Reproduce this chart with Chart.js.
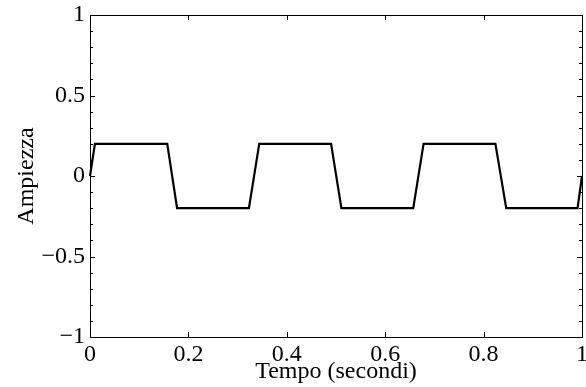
<!DOCTYPE html>
<html>
<head>
<meta charset="utf-8">
<script src="https://cdn.jsdelivr.net/npm/chart.js@4/dist/chart.umd.min.js"></script>
<style>
html,body{margin:0;padding:0;background:#fff;}
#wrap{width:586px;height:387px;position:relative;}
</style>
</head>
<body>
<div id="wrap"><canvas id="c" width="586" height="387"></canvas></div>
<script>
const timeValues = [0, 0.01, 0.157, 0.177, 0.323, 0.344, 0.49, 0.511, 0.657, 0.678, 0.824, 0.846, 0.991, 1.0];
const amplitudeValues = [0, 0.2, 0.2, -0.2, -0.2, 0.2, 0.2, -0.2, -0.2, 0.2, 0.2, -0.2, -0.2, 0];
const xTicks = [0, 0.2, 0.4, 0.6, 0.8, 1];
const yTicks = [-1, -0.5, 0, 0.5, 1];
const yMinorTicks = [-1, -0.9, -0.8, -0.7, -0.6, -0.5, -0.4, -0.3, -0.2, -0.1, 0, 0.1, 0.2, 0.3, 0.4, 0.5, 0.6, 0.7, 0.8, 0.9, 1];

const FONT = 'Liberation Serif';
const fmt = v => {
  const r = Math.round(v * 10) / 10;
  const s = String(Math.abs(r));
  return r < 0 ? '\u2212' + s : s;
};

const boxTicks = {
  id: 'boxTicks',
  afterDatasetsDraw(chart) {
    const {ctx, chartArea: a, scales: {x, y}} = chart;
    ctx.save();
    ctx.strokeStyle = '#000';
    ctx.lineWidth = 1;
    ctx.strokeRect(Math.round(a.left) + 0.5, Math.round(a.top) + 0.5, Math.round(a.right - a.left), Math.round(a.bottom - a.top));
    ctx.beginPath();
    yMinorTicks.forEach(v => {
      const py = Math.round(y.getPixelForValue(v)) + 0.5;
      const major = yTicks.some(t => Math.abs(t - v) < 1e-9);
      const len = major ? 5 : 3;
      ctx.moveTo(a.left, py); ctx.lineTo(a.left + len, py);
      ctx.moveTo(a.right, py); ctx.lineTo(a.right - len, py);
    });
    xTicks.forEach(v => {
      const px = Math.round(x.getPixelForValue(v)) + 0.5;
      ctx.moveTo(px, a.bottom); ctx.lineTo(px, a.bottom - 5);
      ctx.moveTo(px, a.top); ctx.lineTo(px, a.top + 5);
    });
    ctx.stroke();
    ctx.restore();
  }
};

new Chart(document.getElementById('c'), {
  type: 'scatter',
  data: {
    datasets: [{
      data: timeValues.map((t, i) => ({x: t, y: amplitudeValues[i]})),
      showLine: true,
      borderColor: '#000',
      backgroundColor: '#000',
      borderWidth: 2.2,
      pointRadius: 0,
      tension: 0,
      clip: false
    }]
  },
  options: {
    responsive: false,
    animation: false,
    devicePixelRatio: 1,
    layout: {padding: {top: 15, right: 4, left: 0, bottom: 0}},
    plugins: {legend: {display: false}, tooltip: {enabled: false}},
    scales: {
      x: {
        type: 'linear', min: 0, max: 1,
        afterFit: s => { s.height = 50; s.paddingLeft = 0; s.paddingRight = 0; },
        afterBuildTicks: s => { s.ticks = xTicks.map(v => ({value: v})); },
        grid: {display: false, drawTicks: false},
        border: {display: false},
        ticks: {font: {family: FONT, size: 24, lineHeight: 1.2}, color: '#000', padding: 3, maxRotation: 0, autoSkip: false, callback: v => fmt(v)},
        title: {display: true, text: 'Tempo (secondi)', font: {family: FONT, size: 24, lineHeight: 1.2}, color: '#000', padding: {top: 0, bottom: 1}}
      },
      y: {
        type: 'linear', min: -1, max: 1,
        afterFit: s => { s.width = 90; s.paddingTop = 0; s.paddingBottom = 0; },
        afterBuildTicks: s => { s.ticks = yTicks.map(v => ({value: v})); },
        grid: {display: false, drawTicks: false},
        border: {display: false},
        ticks: {font: {family: FONT, size: 24, lineHeight: 1.2}, color: '#000', padding: 5, autoSkip: false, callback: v => fmt(v)},
        title: {display: true, text: 'Ampiezza', font: {family: FONT, size: 24, lineHeight: 1.2}, color: '#000', padding: {top: 12, bottom: 0}}
      }
    }
  },
  plugins: [boxTicks]
});
</script>
</body>
</html>
